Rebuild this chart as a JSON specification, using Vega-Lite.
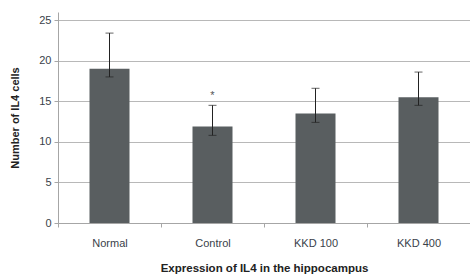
{
  "$schema": "https://vega.github.io/schema/vega-lite/v6.json",
  "autosize": "none",
  "width": 412,
  "height": 211,
  "padding": {"left": 58, "top": 12, "right": 0, "bottom": 57},
  "background": "white",
  "config": {
    "view": {"stroke": null},
    "font": "Liberation Sans",
    "axis": {
      "labelFont": "Liberation Sans",
      "titleFont": "Liberation Sans",
      "labelColor": "#3a3f4a",
      "titleColor": "#222222",
      "labelFontSize": 11,
      "titleFontSize": 11,
      "domainColor": "#a6a6a6",
      "tickColor": "#a6a6a6",
      "gridColor": "#b8b8b8",
      "gridWidth": 1.2
    }
  },
  "data": {
    "values": [
      {"group": "Normal", "value": 19.0, "low": 18.0, "high": 23.4, "sig": ""},
      {"group": "Control", "value": 11.9, "low": 10.8, "high": 14.5, "sig": "*"},
      {"group": "KKD 100", "value": 13.5, "low": 12.4, "high": 16.6, "sig": ""},
      {"group": "KKD 400", "value": 15.5, "low": 14.5, "high": 18.6, "sig": ""}
    ]
  },
  "encoding": {
    "x": {
      "field": "group",
      "type": "nominal",
      "sort": null,
      "scale": {"paddingInner": 0, "paddingOuter": 0},
      "axis": {
        "title": "Expression of IL4 in the hippocampus",
        "labelAngle": 0,
        "tickBand": "extent",
        "tickSize": 4,
        "labelPadding": 10,
        "titlePadding": 14,
        "titleFontSize": 11.5,
        "titleFontWeight": "bold"
      }
    }
  },
  "layer": [
    {
      "mark": {"type": "bar", "size": 40, "color": "#595e60"},
      "encoding": {
        "y": {
          "field": "value",
          "type": "quantitative",
          "scale": {"domain": [0, 25]},
          "axis": {
            "title": "Number of IL4 cells",
            "values": [0, 5, 10, 15, 20, 25],
            "tickSize": 4,
            "labelPadding": 3,
            "titlePadding": 18,
            "titleFontWeight": "bold",
            "grid": true,
            "domain": true
          }
        }
      }
    },
    {
      "mark": {"type": "rule", "color": "#222222", "strokeWidth": 1},
      "encoding": {
        "y": {"field": "low", "type": "quantitative"},
        "y2": {"field": "high"}
      }
    },
    {
      "mark": {"type": "tick", "color": "#222222", "thickness": 1, "size": 8},
      "encoding": {"y": {"field": "low", "type": "quantitative"}}
    },
    {
      "mark": {"type": "tick", "color": "#222222", "thickness": 1, "size": 8},
      "encoding": {"y": {"field": "high", "type": "quantitative"}}
    },
    {
      "mark": {"type": "text", "fontSize": 11, "color": "#555555", "dy": 4},
      "encoding": {
        "y": {"datum": 16.2, "type": "quantitative"},
        "text": {"field": "sig"}
      }
    }
  ]
}
